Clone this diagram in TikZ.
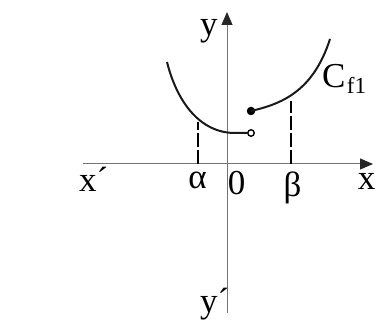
\documentclass[tikz,border=0pt]{standalone}
\usepackage{fontspec}
\setmainfont{Liberation Serif}
\usetikzlibrary{arrows.meta}
\begin{document}
\begin{tikzpicture}[x=1pt,y=-1pt,
  axis/.style={draw=black!55,line width=1pt,-{Triangle[length=13pt,width=11pt,color=black!85]}},
  curve/.style={draw=black!90,line width=2pt},
  guide/.style={draw=black,line width=2.2pt,dash pattern=on 14pt off 3pt},
  lbl/.style={inner sep=0pt,anchor=base,font=\fontsize{35}{35}\selectfont},
  sub/.style={inner sep=0pt,anchor=base west,font=\fontsize{23}{23}\selectfont}]
\useasboundingbox (0,0) rectangle (376,323);
% axes
\coordinate (xl) at (83,164);
\coordinate (xr) at (373,164);
\coordinate (yb) at (227,313);
\coordinate (yt) at (227,12);
\draw[axis] (xl) -- (xr);
\draw[axis] (yb) -- (yt);
% curve pieces
\coordinate (a0) at (167,62);
\coordinate (a1) at (235,133);
\node[circle,draw=black,line width=1.4pt,fill=white,inner sep=0pt,minimum size=6.5pt] (open) at (251,133) {};
\draw[curve] (a0) .. controls (177,102) and (200,133) .. (a1) -- (open.west);
\node[circle,fill=black,inner sep=0pt,minimum size=8.5pt] (closed) at (251,111) {};
\coordinate (b1) at (330,39);
\draw[curve] (closed.center) .. controls (281,104) and (313,92) .. (b1);
% dashed guides
\coordinate (ga) at (198,122);
\coordinate (gaa) at (198,164);
\coordinate (gb) at (291,101);
\coordinate (gbb) at (291,164);
\draw[guide] (gaa) -- (ga);
\draw[guide] (gbb) -- (gb);
% labels
\node[lbl,anchor=base west] (lxp) at (79,192) {x´};
\node[lbl] (lal) at (197.5,188.5) {α};
\node[lbl] (lz) at (236.5,195) {0};
\node[lbl] (lbe) at (292.5,197) {β};
\node[lbl] (lx) at (366.5,190) {x};
\node[lbl] (ly) at (209,36) {y};
\node[lbl,anchor=base west] (lyp) at (200,313) {y´};
\node[lbl,anchor=base west] (lc) at (322,88) {C};
\node[sub,yshift=-6pt,xshift=1pt] (lcs) at (lc.base east) {f1};
\end{tikzpicture}
\end{document}
